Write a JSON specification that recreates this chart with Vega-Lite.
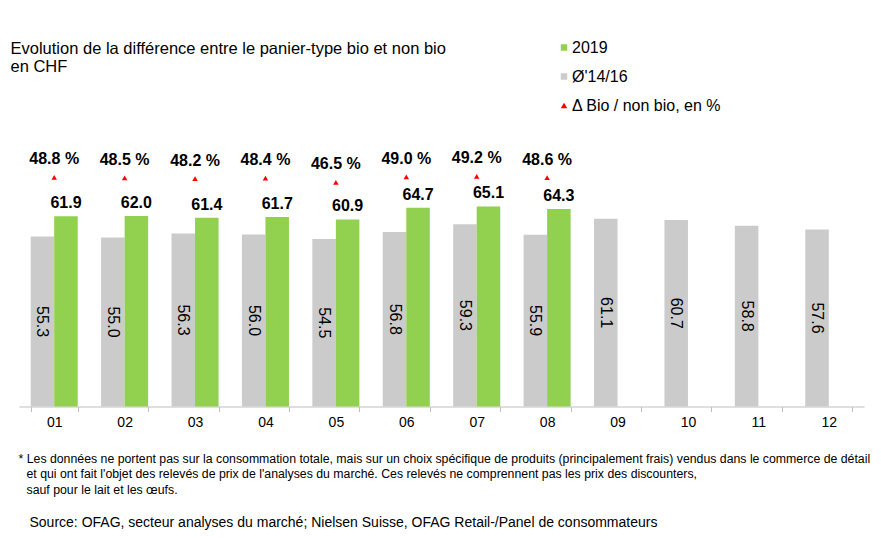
{
  "$schema": "https://vega.github.io/schema/vega-lite/v6.json",
  "width": 845,
  "height": 276.5,
  "autosize": {"type": "none"},
  "padding": {"left": 19, "top": 130, "right": 17, "bottom": 131.5},
  "background": "white",
  "config": {
    "font": "Liberation Sans",
    "view": {"stroke": null},
    "locale": {"number": {"decimal": ".", "thousands": ",", "grouping": [3], "currency": ["", ""], "percent": " %"}},
    "legend": {
      "orient": "none",
      "legendX": 537,
      "legendY": -90.5,
      "title": null,
      "padding": 0,
      "labelFontSize": 16,
      "labelColor": "#000000",
      "labelFont": "Liberation Sans",
      "symbolSize": 42,
      "symbolStrokeWidth": 0,
      "rowPadding": 13,
      "labelOffset": 0
    }
  },
  "datasets": {
    "bars": [
      {"month": "01", "series": "Ø'14/16", "value": 55.3},
      {"month": "01", "series": "2019", "value": 61.9},
      {"month": "02", "series": "Ø'14/16", "value": 55.0},
      {"month": "02", "series": "2019", "value": 62.0},
      {"month": "03", "series": "Ø'14/16", "value": 56.3},
      {"month": "03", "series": "2019", "value": 61.4},
      {"month": "04", "series": "Ø'14/16", "value": 56.0},
      {"month": "04", "series": "2019", "value": 61.7},
      {"month": "05", "series": "Ø'14/16", "value": 54.5},
      {"month": "05", "series": "2019", "value": 60.9},
      {"month": "06", "series": "Ø'14/16", "value": 56.8},
      {"month": "06", "series": "2019", "value": 64.7},
      {"month": "07", "series": "Ø'14/16", "value": 59.3},
      {"month": "07", "series": "2019", "value": 65.1},
      {"month": "08", "series": "Ø'14/16", "value": 55.9},
      {"month": "08", "series": "2019", "value": 64.3},
      {"month": "09", "series": "Ø'14/16", "value": 61.1},
      {"month": "10", "series": "Ø'14/16", "value": 60.7},
      {"month": "11", "series": "Ø'14/16", "value": 58.8},
      {"month": "12", "series": "Ø'14/16", "value": 57.6}
    ],
    "delta": [
      {"month": "01", "series": "Δ Bio / non bio, en %", "pct": 0.488},
      {"month": "02", "series": "Δ Bio / non bio, en %", "pct": 0.485},
      {"month": "03", "series": "Δ Bio / non bio, en %", "pct": 0.482},
      {"month": "04", "series": "Δ Bio / non bio, en %", "pct": 0.484},
      {"month": "05", "series": "Δ Bio / non bio, en %", "pct": 0.465},
      {"month": "06", "series": "Δ Bio / non bio, en %", "pct": 0.490},
      {"month": "07", "series": "Δ Bio / non bio, en %", "pct": 0.492},
      {"month": "08", "series": "Δ Bio / non bio, en %", "pct": 0.486}
    ]
  },
  "encoding": {
    "x": {
      "field": "month",
      "type": "ordinal",
      "scale": {"domain": ["01","02","03","04","05","06","07","08","09","10","11","12"], "paddingInner": 0.332, "paddingOuter": 0.166},
      "axis": {
        "labelAngle": 0,
        "labelFontSize": 14,
        "labelColor": "#000000",
        "labelPadding": 4,
        "domainColor": "#BFBFBF",
        "tickColor": "#BFBFBF",
        "tickSize": 5,
        "tickBand": "extent",
        "grid": false,
        "title": "* Les données ne portent pas sur la consommation totale, mais sur un choix spécifique de produits (principalement frais) vendus dans le commerce de détail",
        "titleFontSize": 12.3,
        "titleFontWeight": "normal",
        "titleColor": "#000000",
        "titleAlign": "left",
        "titleAnchor": "start",
        "titleBaseline": "alphabetic",
        "titleX": -1,
        "titleY": 55.5
      }
    }
  },
  "layer": [
    {
      "data": {"name": "bars"},
      "mark": {"type": "bar"},
      "encoding": {
        "xOffset": {"field": "series", "type": "nominal", "scale": {"domain": ["Ø'14/16", "2019"], "paddingInner": 0, "paddingOuter": 0}},
        "y": {
          "field": "value",
          "type": "quantitative",
          "scale": {"domain": [0, 90], "nice": false, "zero": true},
          "axis": {
            "orient": "left",
            "labels": false,
            "ticks": false,
            "domain": false,
            "grid": false,
            "title": ["Evolution de la différence entre le panier-type bio et non bio", "en CHF"],
            "titleAngle": 0,
            "titleAlign": "left",
            "titleBaseline": "alphabetic",
            "titleFontSize": 16.5,
            "titleFontWeight": "normal",
            "titleColor": "#000000",
            "titleLineHeight": 18,
            "titleX": -9,
            "titleY": -77
          }
        },
        "color": {
          "field": "series",
          "type": "nominal",
          "scale": {"domain": ["2019", "Ø'14/16", "Δ Bio / non bio, en %"], "range": ["#92D050", "#CBCBCB", "#FF0000"]},
          "legend": {}
        }
      }
    },
    {
      "data": {"name": "bars"},
      "transform": [{"filter": "datum.series === \"Ø'14/16\""}],
      "mark": {"type": "text", "angle": 90, "fontSize": 16, "color": "#000000", "align": "center", "baseline": "middle"},
      "encoding": {
        "xOffset": {"field": "series", "type": "nominal", "scale": {"domain": ["Ø'14/16", "2019"], "paddingInner": 0, "paddingOuter": 0}},
        "y": {
          "field": "value",
          "type": "quantitative",
          "scale": {"domain": [0, 180], "nice": false, "zero": true},
          "axis": {
            "orient": "left",
            "labels": false,
            "ticks": false,
            "domain": false,
            "grid": false,
            "title": [
              "et qui ont fait l'objet des relevés de prix de l'analyses du marché. Ces relevés ne comprennent pas les prix des discounters,",
              "sauf pour le lait et les œufs."
            ],
            "titleAngle": 0,
            "titleAlign": "left",
            "titleBaseline": "alphabetic",
            "titleFontSize": 12.3,
            "titleFontWeight": "normal",
            "titleColor": "#000000",
            "titleLineHeight": 15.5,
            "titleX": 7,
            "titleY": 347.5
          }
        },
        "text": {"field": "value", "type": "quantitative", "format": ".1f"}
      }
    },
    {
      "data": {"name": "bars"},
      "transform": [{"filter": "datum.series === '2019'"}],
      "mark": {"type": "text", "fontSize": 16, "fontWeight": "bold", "color": "#000000", "align": "center", "baseline": "bottom", "dy": -5},
      "encoding": {
        "xOffset": {"field": "series", "type": "nominal", "scale": {"domain": ["Ø'14/16", "2019"], "paddingInner": 0, "paddingOuter": 0}},
        "y": {"field": "value", "type": "quantitative", "scale": {"domain": [0, 90], "nice": false, "zero": true}, "axis": null},
        "text": {"field": "value", "type": "quantitative", "format": ".1f"}
      }
    },
    {
      "data": {"name": "delta"},
      "mark": {"type": "point", "shape": "triangle-up", "filled": true, "size": 30, "opacity": 1},
      "encoding": {
        "y": {
          "field": "pct",
          "type": "quantitative",
          "scale": {"domain": [-0.554, 0.703], "nice": false, "zero": false},
          "axis": {
            "orient": "left",
            "labels": false,
            "ticks": false,
            "domain": false,
            "grid": false,
            "title": "Source: OFAG, secteur analyses du marché; Nielsen Suisse, OFAG Retail-/Panel de consommateurs",
            "titleAngle": 0,
            "titleAlign": "left",
            "titleBaseline": "alphabetic",
            "titleFontSize": 14,
            "titleFontWeight": "normal",
            "titleColor": "#000000",
            "titleX": 10,
            "titleY": 396
          }
        },
        "color": {
          "field": "series",
          "type": "nominal",
          "scale": {"domain": ["2019", "Ø'14/16", "Δ Bio / non bio, en %"], "range": ["#92D050", "#CBCBCB", "#FF0000"]},
          "legend": {}
        },
        "shape": {
          "field": "series",
          "type": "nominal",
          "scale": {"domain": ["2019", "Ø'14/16", "Δ Bio / non bio, en %"], "range": ["square", "square", "triangle-up"]},
          "legend": {}
        }
      }
    },
    {
      "data": {"name": "delta"},
      "mark": {"type": "text", "fontSize": 16, "fontWeight": "bold", "color": "#000000", "align": "center", "baseline": "middle", "dy": -18},
      "encoding": {
        "y": {"field": "pct", "type": "quantitative", "scale": {"domain": [-0.554, 0.703], "nice": false, "zero": false}, "axis": null},
        "text": {"field": "pct", "type": "quantitative", "format": ".1%"}
      }
    }
  ],
  "resolve": {"scale": {"y": "independent"}}
}
